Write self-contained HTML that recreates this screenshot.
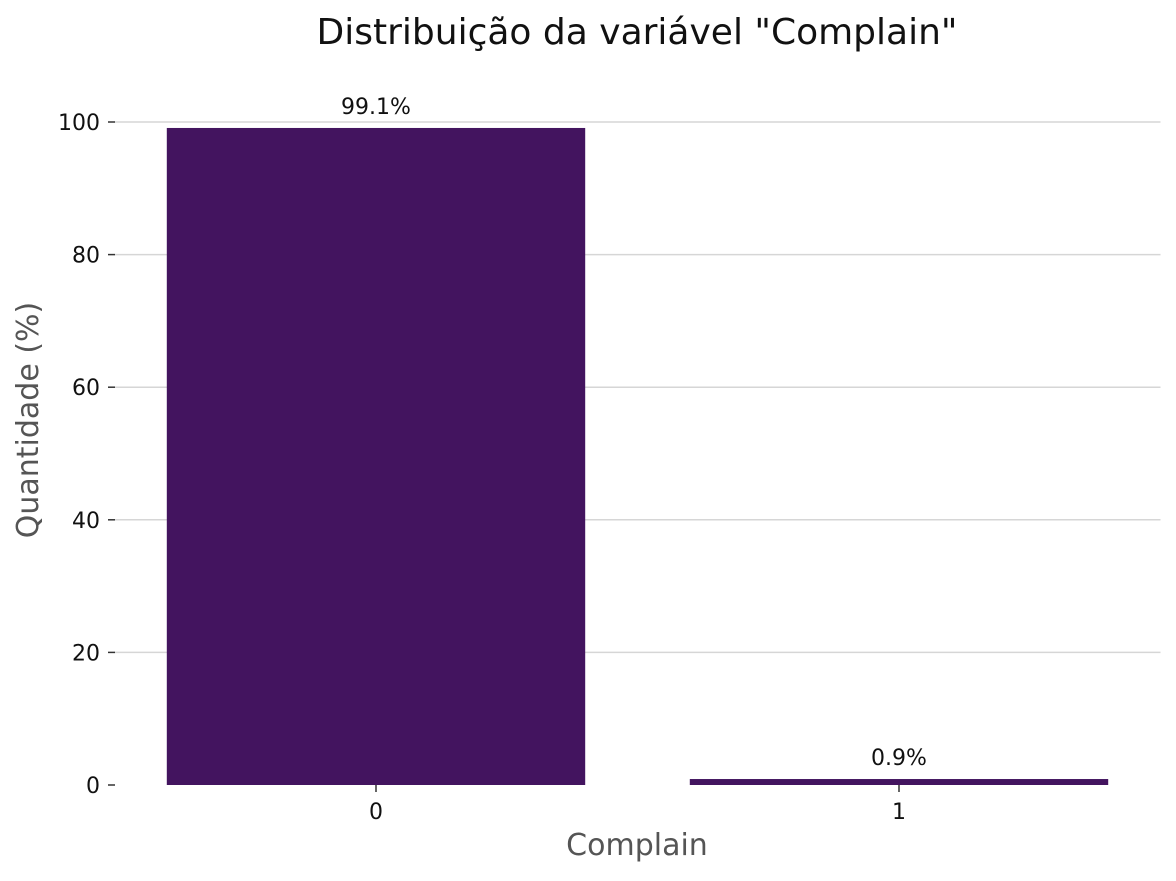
<!DOCTYPE html>
<html><head><meta charset="utf-8"><style>
body{margin:0;background:#fff;}
svg text{font-family:"DejaVu Sans","Liberation Sans",sans-serif;}
</style></head><body>
<svg width="1176" height="876" xmlns="http://www.w3.org/2000/svg">
<text x="637" y="44" text-anchor="middle" font-size="36" fill="#111">Distribuição da variável "Complain"</text>
<g id="grid"></g><g id="bars"></g><g id="yaxis"></g><g id="xaxis"></g>
<text x="637" y="855" text-anchor="middle" font-size="30" fill="#555">Complain</text>
<text transform="translate(38,420) rotate(-90)" text-anchor="middle" font-size="30" fill="#555">Quantidade (%)</text>
</svg>
<script>
const categories=["0","1"];
const values=[99.1,0.9];
const labels=["99.1%","0.9%"];
const yTicks=[0,20,40,60,80,100];
const NS="http://www.w3.org/2000/svg";
const x0=114.5,x1=1160.5,y0=785,yScale=6.63;
const band=(x1-x0)/categories.length;
const y=v=>y0-v*yScale;
const xc=i=>x0+band*(i+0.5);
function mk(t,a,p){const e=document.createElementNS(NS,t);for(const k in a)e.setAttribute(k,a[k]);document.getElementById(p).appendChild(e);return e;}
yTicks.forEach(t=>{
 if(t>0){const g=mk('line',{x1:x0,x2:x1,y1:y(t),y2:y(t),stroke:'#d6d6d6','stroke-width':1.5},'grid');
 
 }
 const tk=mk('line',{x1:108,x2:115,y1:y(t),y2:y(t),stroke:'#333','stroke-width':1.5},'yaxis');
 
 
 const l=mk('text',{x:100,y:y(t)+8,'text-anchor':'end','font-size':22,fill:'#111'},'yaxis');l.textContent=t;
 
 
});
categories.forEach((c,i)=>{
 const w=band*0.8,cx=xc(i);
 const b=mk('rect',{x:cx-w/2,y:y(values[i]),width:w,height:values[i]*yScale,fill:'#43145f'},'bars');
 
 
 const v=mk('text',{x:cx,y:y(values[i])-14,'text-anchor':'middle','font-size':22,fill:'#111'},'bars');v.textContent=labels[i];
 
 
 const tk=mk('line',{x1:cx,x2:cx,y1:785,y2:792,stroke:'#333','stroke-width':1.5},'xaxis');
 
 
 const l=mk('text',{x:cx,y:819,'text-anchor':'middle','font-size':22,fill:'#111'},'xaxis');l.textContent=c;
 
 
});
</script>
</body></html>
